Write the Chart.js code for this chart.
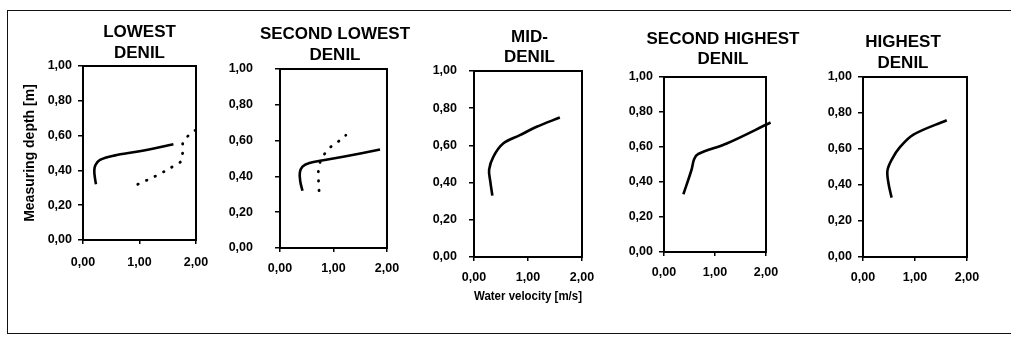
<!DOCTYPE html>
<html lang="en">
<head>
<meta charset="UTF-8">
<title>Measuring depth vs water velocity - Denil passes</title>
<script src="https://cdn.jsdelivr.net/npm/chart.js"></script>
<style>
    body { margin: 0; background: #fff; }
    #wrap { position: relative; width: 1011px; height: 337px; overflow: hidden; }
    #frame { position: absolute; left: 7px; top: 10px; width: 1040px; height: 322px; border: 1.5px solid #111; }
    canvas { position: absolute; top: 0; }
</style>
</head>
<body>
<div id="wrap">
    <div id="frame"></div>
</div>
<script>
// ---- data ----
const panelTitles = [
    ['LOWEST', 'DENIL'],
    ['SECOND LOWEST', 'DENIL'],
    ['MID-', 'DENIL'],
    ['SECOND HIGHEST', 'DENIL'],
    ['HIGHEST', 'DENIL']
];
const xTickValues = [0, 1, 2];
const xTickLabels = ['0,00', '1,00', '2,00'];
const yTickValues = [0, 0.2, 0.4, 0.6, 0.8, 1];
const yTickLabels = ['0,00', '0,20', '0,40', '0,60', '0,80', '1,00'];
const yAxisTitle = 'Measuring depth [m]';
const xAxisTitle = 'Water velocity [m/s]';

// lowest denil
const lowestSolidVel = [0.23, 0.21, 0.20, 0.22, 0.30, 0.55, 1.00, 1.60];
const lowestSolidDepth = [0.32, 0.36, 0.40, 0.43, 0.46, 0.485, 0.51, 0.55];
const lowestDotVel = [0.97, 1.30, 1.63, 1.75, 1.77, 1.90, 2.03];
const lowestDotDepth = [0.32, 0.37, 0.43, 0.46, 0.56, 0.61, 0.64];
// second lowest denil
const secLowSolidVel = [0.42, 0.38, 0.37, 0.42, 0.55, 0.81, 1.18, 1.87];
const secLowSolidDepth = [0.32, 0.37, 0.42, 0.455, 0.475, 0.49, 0.51, 0.55];
const secLowDotVel = [0.73, 0.72, 0.78, 0.93, 1.07, 1.23];
const secLowDotDepth = [0.32, 0.44, 0.50, 0.56, 0.59, 0.63];
// mid denil
const midSolidVel = [0.34, 0.30, 0.28, 0.36, 0.54, 0.85, 1.16, 1.59];
const midSolidDepth = [0.33, 0.41, 0.47, 0.54, 0.61, 0.655, 0.70, 0.75];
// second highest denil
const secHighSolidVel = [0.38, 0.54, 0.59, 0.67, 1.23, 2.09];
const secHighSolidDepth = [0.33, 0.47, 0.53, 0.56, 0.62, 0.74];
// highest denil
const highSolidVel = [0.55, 0.49, 0.47, 0.55, 0.71, 0.97, 1.61];
const highSolidDepth = [0.33, 0.41, 0.48, 0.54, 0.61, 0.68, 0.76];

// ---- layout of the five panels (pixels) ----
const panels = [
    { left: 0,   width: 279, height: 290, yw: 83, rw: 83, xh: 50, tTop: 22.5, tBot: 1.5, yPad: 6,  xPad: 11, yTitle: true },
    { left: 220, width: 230, height: 298, yw: 60, rw: 63, xh: 50, tTop: 24.5, tBot: 2.5, yPad: 22, xPad: 9 },
    { left: 414, width: 231, height: 307, yw: 60, rw: 63, xh: 50, tTop: 27,   tBot: 2,   yPad: 12, xPad: 9, xTitle: true },
    { left: 604, width: 238, height: 302, yw: 60, rw: 76, xh: 50, tTop: 29,   tBot: 6,   yPad: 6,  xPad: 9 },
    { left: 803, width: 200, height: 307, yw: 60, rw: 36, xh: 50, tTop: 32.5, tBot: 2.5, yPad: 6,  xPad: 9 }
];

const series = [
    [[lowestSolidVel, lowestSolidDepth, false], [lowestDotVel, lowestDotDepth, true]],
    [[secLowSolidVel, secLowSolidDepth, false], [secLowDotVel, secLowDotDepth, true]],
    [[midSolidVel, midSolidDepth, false]],
    [[secHighSolidVel, secHighSolidDepth, false]],
    [[highSolidVel, highSolidDepth, false]]
];

Chart.defaults.font.family = '"Liberation Sans", Arial, sans-serif';
Chart.defaults.color = '#000';

function pts(xs, ys) {
    return xs.map((x, i) => ({ x: x, y: ys[i] }));
}

const frameAxis = {
    type: 'linear', min: 0, max: 1,
    ticks: { display: false },
    grid: { display: false },
    border: { display: true, color: '#000', width: 2 }
};

panels.forEach((p, i) => {
    const cv = document.createElement('canvas');
    cv.width = p.width;
    cv.height = p.height;
    cv.style.left = p.left + 'px';
    document.getElementById('wrap').appendChild(cv);

    const datasets = series[i].map(s => ({
        data: pts(s[0], s[1]),
        borderColor: '#000',
        borderWidth: s[2] ? 2.8 : 2.6,
        borderDash: s[2] ? [0.5, 9] : [],
        borderCapStyle: s[2] ? 'round' : 'butt',
        pointRadius: 0,
        tension: 0.35,
        fill: false,
        clip: false
    }));

    new Chart(cv.getContext('2d'), {
        type: 'line',
        data: { datasets: datasets },
        options: {
            responsive: false,
            animation: false,
            events: [],
            layout: { padding: 0 },
            plugins: {
                legend: { display: false },
                tooltip: { enabled: false },
                title: {
                    display: true,
                    text: panelTitles[i],
                    font: { size: 17, weight: 'bold', lineHeight: 1.2 },
                    color: '#000',
                    padding: { top: p.tTop, bottom: p.tBot + 1.2 }
                }
            },
            scales: {
                x: {
                    type: 'linear', position: 'bottom', min: 0, max: 2,
                    afterBuildTicks: s => { s.ticks = xTickValues.map(v => ({ value: v })); },
                    afterFit: s => { s.height = p.xh; },
                    ticks: {
                        padding: p.xPad,
                        maxRotation: 0,
                        font: { size: 12.5, weight: 'bold' },
                        callback: (v, k) => xTickLabels[k]
                    },
                    grid: { drawOnChartArea: false, tickLength: 4, color: '#000', lineWidth: 1.5 },
                    border: { color: '#000', width: 2 },
                    title: {
                        display: !!p.xTitle,
                        text: xAxisTitle,
                        font: { size: 13, weight: 'bold' },
                        padding: { top: 0, bottom: 2.5 }
                    }
                },
                y: {
                    type: 'linear', position: 'left', min: 0, max: 1,
                    afterBuildTicks: s => { s.ticks = yTickValues.map(v => ({ value: v })); },
                    afterFit: s => { s.width = p.yw; },
                    ticks: {
                        padding: p.yPad,
                        font: { size: 12.5, weight: 'bold' },
                        callback: (v, k) => yTickLabels[k]
                    },
                    grid: { drawOnChartArea: false, tickLength: 5, color: '#000', lineWidth: 1.5 },
                    border: { color: '#000', width: 2 },
                    title: {
                        display: !!p.yTitle,
                        text: yAxisTitle,
                        font: { size: 14, weight: 'bold' },
                        padding: { top: 21.6, bottom: 0 }
                    }
                },
                x2: Object.assign({}, frameAxis, { position: 'top', max: 2, afterFit: s => { s.height = 0; } }),
                y2: Object.assign({}, frameAxis, { position: 'right', afterFit: s => { s.width = p.rw; } })
            }
        }
    });
});
</script>
</body>
</html>
